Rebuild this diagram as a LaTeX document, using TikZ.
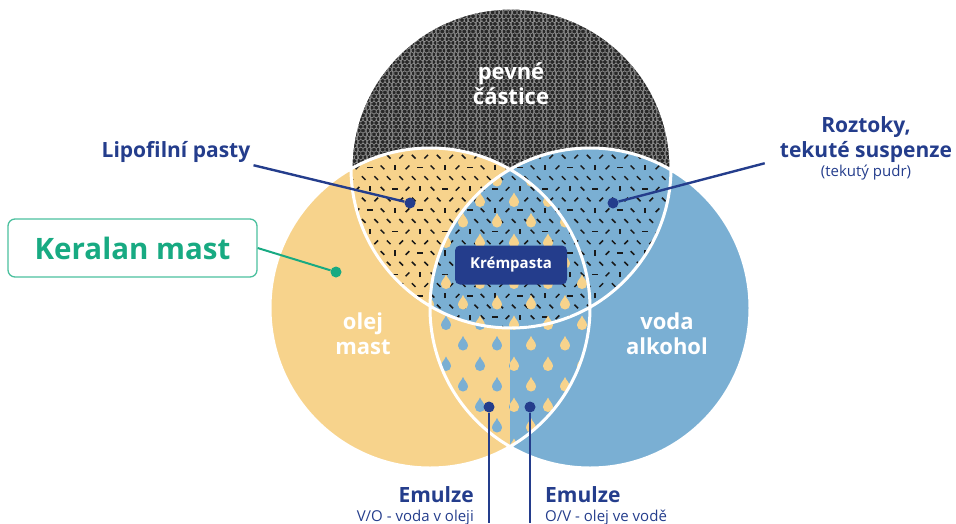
\documentclass[tikz,border=0pt]{standalone}
\usepackage{fontspec}
\setmainfont{Open Sans}
\usepackage{xcolor}
\usepackage{tikz}
\usetikzlibrary{patterns.meta}
\definecolor{oilyellow}{RGB}{247,211,140}
\definecolor{waterblue}{RGB}{122,175,211}
\definecolor{navy}{RGB}{36,61,140}
\definecolor{keralgreen}{RGB}{24,170,130}
\definecolor{keralline}{RGB}{75,192,158}
\definecolor{meshdark}{RGB}{40,40,40}
\definecolor{meshlight}{RGB}{150,150,150}
\newcommand\hexcell[2]{(#1pt,#2pt) +(2.2pt,1.27pt) -- +(0pt,2.54pt) -- +(-2.2pt,1.27pt)
  -- +(-2.2pt,-1.27pt) -- +(0pt,-2.54pt) -- +(2.2pt,-1.27pt) -- cycle}
\tikzdeclarepattern{
  name=hexmesh, type=colored,
  bottom left={(1.1pt,0pt)}, top right={(5.5pt,7.62pt)}, tile size={(4.4pt,7.62pt)},
  code={
    \fill[meshdark] (1.1pt,0pt) rectangle (5.5pt,7.62pt);
    \draw[meshlight, line width=0.6pt] \hexcell{0}{0} \hexcell{4.4}{0} \hexcell{2.2}{3.81}
      \hexcell{0}{7.62} \hexcell{4.4}{7.62};
  }
}
\tikzstyle{ring} = [draw=white, line width=3pt]
\tikzstyle{whitetxt} = [text=white, font=\bfseries\fontsize{22}{25}\selectfont, align=center, anchor=base]
\tikzstyle{navytxt} = [text=navy, font=\bfseries\fontsize{21}{25}\selectfont, align=center, inner sep=3pt]
\tikzstyle{smalltxt} = [text=navy, font=\fontsize{15}{18}\selectfont, inner sep=0pt]
\tikzstyle{creambox} = [fill=navy, rounded corners=5pt, text=white, font=\bfseries\fontsize{15}{18}\selectfont, minimum width=112pt, minimum height=39pt]
\tikzstyle{keralbox} = [draw=keralline, line width=1.3pt, rounded corners=7pt, text=keralgreen, font=\bfseries\fontsize{29.5}{33}\selectfont, minimum width=249pt, minimum height=58pt]
\tikzstyle{dotmark} = [circle, fill=navy, inner sep=0pt, minimum size=11pt]
\tikzstyle{leader} = [draw=navy, line width=2.4pt]
\tikzstyle{dashmark} = [black!90, line width=1.5pt]
\tikzset{droplet/.pic={\path[pic actions] (0,-8.5) .. controls (-1.2,-5) and (-5,-2.5) .. (-5,1.2)
  .. controls (-5,4) and (-2.8,6) .. (0,6) .. controls (2.8,6) and (5,4) .. (5,1.2)
  .. controls (5,-2.5) and (1.2,-5) .. (0,-8.5) -- cycle;}}
\newcommand\dropgrid[1]{%
  \foreach \j in {0,...,14}{\foreach \i in {0,...,6}{%
    \pic[fill=#1] at ({412+\i*34+mod(\j,2)*17},{160+\j*20.5}) {droplet};}}}
\newcommand\dashgrid{%
  \foreach \j in {0,...,18}{\foreach \i in {0,...,27}{%
    \pgfmathtruncatemacro\k{mod(\i*7+\j*11+\i*\j*3,4)}
    \draw[dashmark] ({345+\i*12.5+mod(\j,2)*6.2},{146+\j*10.7}) ++(\k*45:2.6) -- ++(\k*45+180:5.2);}}}
\begin{document}
\begin{tikzpicture}[x=1pt, y=-1pt]
   \useasboundingbox (0,0) rectangle (956,523);
   \coordinate (solid) at (511,168);
   \coordinate (oil) at (430,308);
   \coordinate (water) at (590,308);
   \def\rad{160}
   % base circles
   \fill[oilyellow] (oil) circle (\rad);
   \fill[waterblue] (water) circle (\rad);
   % emulsions
   \begin{scope}
      \clip (oil) circle (\rad);
      \clip (water) circle (\rad);
      \fill[oilyellow] (400,140) rectangle (510,480);
      \fill[waterblue] (510,140) rectangle (620,480);
      \begin{scope}
         \clip (400,140) rectangle (510,480);
         \dropgrid{waterblue}
      \end{scope}
      \begin{scope}
         \clip (510,140) rectangle (620,480);
         \dropgrid{oilyellow}
      \end{scope}
   \end{scope}
   % solid particles
   \fill[pattern=hexmesh] (solid) circle (\rad);
   \begin{scope}
      \clip (solid) circle (\rad);
      \clip (oil) circle (\rad);
      \fill[oilyellow] (270,0) rectangle (600,480);
      \dashgrid
   \end{scope}
   \begin{scope}
      \clip (solid) circle (\rad);
      \clip (water) circle (\rad);
      \fill[waterblue] (420,0) rectangle (760,480);
      \dashgrid
      \clip (oil) circle (\rad);
      \dropgrid{oilyellow}
   \end{scope}
   \draw[ring] (solid) circle (\rad) (oil) circle (\rad) (water) circle (\rad);
   % texts in the circles
   \node[whitetxt] (solidtxt) at (511,104) {pevné\\částice};
   \node[whitetxt] (oiltxt) at (363,354) {olej\\mast};
   \node[whitetxt] (watertxt) at (667,354) {voda\\alkohol};
   \node[creambox] (cream) at (511,265) {Krémpasta};
   % dots
   \node[dotmark] (lipdot) at (410,203) {};
   \node[dotmark] (soldot) at (613,203) {};
   \node[dotmark, fill=keralgreen] (keraldot) at (336,272) {};
   \node[dotmark] (wodot) at (489,407) {};
   \node[dotmark] (owdot) at (530,407) {};
   % callouts
   \node[navytxt, anchor=base] (lip) at (176,157) {Lipofilní pasty};
   \draw[leader] (lip.south east) -- (lipdot);
   \node[navytxt, anchor=base] (sol) at (866,157) {Roztoky,\\tekuté suspenze};
   \node[smalltxt, anchor=base] (solsub) at (866,176) {(tekutý pudr)};
   \draw[leader] ([xshift=-12pt,yshift=2pt]sol.south west) -- (soldot);
   \node[keralbox] (keral) at (132.5,248) {Keralan mast};
   \draw[draw=keralgreen, line width=2pt] (keral.east) -- (keraldot);
   \node[navytxt, anchor=base east, inner sep=0pt] (wo) at (474,502) {Emulze};
   \node[smalltxt, anchor=base east] (wosub) at (474,521) {V/O - voda v oleji};
   \node[navytxt, anchor=base west, inner sep=0pt] (ow) at (545,502) {Emulze};
   \node[smalltxt, anchor=base west] (owsub) at (545,521) {O/V - olej ve vodě};
   \coordinate (wofoot) at (489,523);
   \coordinate (owfoot) at (530,523);
   \draw[leader] (wodot) -- (wofoot);
   \draw[leader] (owdot) -- (owfoot);
\end{tikzpicture}
\end{document}
